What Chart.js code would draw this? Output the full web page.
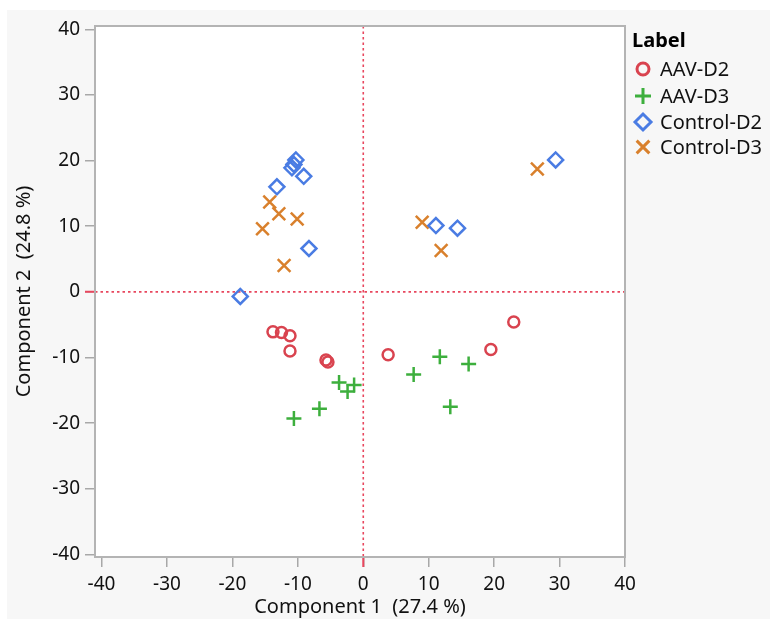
<!DOCTYPE html>
<html>
<head>
<meta charset="utf-8">
<script src="https://cdn.jsdelivr.net/npm/chart.js@4.4.0/dist/chart.umd.min.js"></script>
<style>
  html, body { margin: 0; padding: 0; background: #fff; }
  #wrap { position: relative; width: 770px; height: 619px; }
</style>
</head>
<body>
<div id="wrap"><canvas id="pca" width="770" height="619"></canvas></div>
<script>
// data
const seriesNames = ['AAV-D2', 'AAV-D3', 'Control-D2', 'Control-D3'];

const aavD2X = [-13.8, -12.5, -11.2, -11.2, -5.7, -5.4, 3.8, 23.0, 19.5];
const aavD2Y = [-6.1, -6.2, -6.7, -9.0, -10.4, -10.7, -9.6, -4.6, -8.8];

const aavD3X = [-3.7, -1.4, -2.4, -6.7, -10.6, 7.7, 11.7, 13.3, 16.1];
const aavD3Y = [-13.8, -14.2, -15.2, -17.8, -19.3, -12.6, -9.9, -17.5, -11.0];

const ctrlD2X = [-18.8, -13.2, -10.3, -10.6, -10.9, -9.1, -8.3, 29.4, 11.1, 14.4];
const ctrlD2Y = [-0.7, 16.0, 20.1, 19.4, 18.9, 17.6, 6.6, 20.1, 10.1, 9.7];

const ctrlD3X = [-14.3, -12.9, -10.1, -15.4, -12.1, 26.6, 9.0, 11.9];
const ctrlD3Y = [13.7, 11.9, 11.1, 9.6, 4.0, 18.7, 10.6, 6.3];

const xTicks = [-40, -30, -20, -10, 0, 10, 20, 30, 40];
const yTicks = [-40, -30, -20, -10, 0, 10, 20, 30, 40];

const FONT = "'Noto Sans', 'DejaVu Sans', sans-serif";
const refColor = '#e8475e';

function pts(xs, ys) { return xs.map((x, i) => ({ x: x, y: ys[i] })); }

const styles = [
  { color: '#d9434f', pointStyle: 'circle', radius: 5.5, width: 2.5 },
  { color: '#3daf3d', pointStyle: 'cross', radius: 7.5, width: 2.5 },
  { color: '#4a7ce3', pointStyle: 'rectRot', radius: 7.5, width: 2.5 },
  { color: '#d9802c', pointStyle: 'crossRot', radius: 9, width: 2.5 }
];

const allData = [pts(aavD2X, aavD2Y), pts(aavD3X, aavD3Y), pts(ctrlD2X, ctrlD2Y), pts(ctrlD3X, ctrlD3Y)];

const datasets = seriesNames.map((name, i) => ({
  label: name,
  data: allData[i],
  pointStyle: styles[i].pointStyle,
  pointRadius: styles[i].radius,
  pointHoverRadius: styles[i].radius,
  pointBorderWidth: styles[i].width,
  pointBorderColor: styles[i].color,
  pointBackgroundColor: 'rgba(0,0,0,0)',
  borderColor: styles[i].color,
  backgroundColor: 'rgba(0,0,0,0)',
  showLine: false
}));

/* === BACKGROUND, FRAME, REFERENCE LINES, LEGEND === */
const decor = {
  id: 'decor',
  beforeDraw(chart) {
    const { ctx, chartArea: a } = chart;
    ctx.save();
    ctx.fillStyle = '#f7f7f7';
    ctx.fillRect(7, 10, chart.width - 7, chart.height - 10);
    ctx.fillStyle = '#ffffff';
    ctx.fillRect(a.left, a.top, a.right - a.left, a.bottom - a.top);
    ctx.restore();
  },
  beforeDatasetsDraw(chart) {
    const { ctx, chartArea: a, scales } = chart;
    const x0 = scales.x.getPixelForValue(0);
    const y0 = scales.y.getPixelForValue(0);
    ctx.save();
    ctx.strokeStyle = refColor;
    ctx.lineWidth = 1.6;
    ctx.setLineDash([2.5, 3]);
    ctx.beginPath();
    ctx.moveTo(x0, a.top);
    ctx.lineTo(x0, a.bottom);
    ctx.moveTo(a.left, y0);
    ctx.lineTo(a.right, y0);
    ctx.stroke();
    // solid red tick stubs outside the frame
    ctx.setLineDash([]);
    ctx.lineWidth = 2;
    ctx.beginPath();
    ctx.moveTo(x0, a.bottom);
    ctx.lineTo(x0, a.bottom + 10);
    ctx.moveTo(a.left, y0);
    ctx.lineTo(a.left - 10, y0);
    ctx.stroke();
    ctx.restore();
  },
  afterDraw(chart) {
    const { ctx, chartArea: a } = chart;
    ctx.save();
    ctx.strokeStyle = '#b4b4b4';
    ctx.lineWidth = 2;
    ctx.strokeRect(a.left, a.top, a.right - a.left, a.bottom - a.top);

    // legend
    ctx.fillStyle = '#000';
    ctx.font = 'bold 20px ' + FONT;
    ctx.textBaseline = 'middle';
    ctx.textAlign = 'left';
    ctx.fillText('Label', 632, 41);
    ctx.font = '20px ' + FONT;
    const rowY = [69, 96, 122, 147];
    seriesNames.forEach((name, i) => {
      const s = styles[i];
      ctx.strokeStyle = s.color;
      ctx.fillStyle = 'rgba(0,0,0,0)';
      ctx.lineWidth = s.width + 0.5;
      Chart.helpers.drawPoint(ctx, {
        pointStyle: s.pointStyle,
        radius: s.pointStyle === 'circle' ? 6 : (s.pointStyle === 'crossRot' ? 9 : 8),
        rotation: 0,
        borderWidth: s.width + 0.5
      }, 643, rowY[i]);
      ctx.fillStyle = '#111';
      ctx.fillText(name, 660, rowY[i] + 1);
    });
    ctx.restore();
  }
};

new Chart(document.getElementById('pca').getContext('2d'), {
  type: 'scatter',
  data: { datasets: datasets },
  plugins: [decor],
  options: {
    responsive: false,
    animation: false,
    layout: { padding: { top: 26, right: 145, left: 0, bottom: 0 } },
    plugins: {
      legend: { display: false },
      tooltip: { enabled: false }
    },
    scales: {
      x: {
        type: 'linear',
        min: -41,
        max: 40,
        afterBuildTicks: axis => { axis.ticks = xTicks.map(v => ({ value: v })); },
        afterFit: axis => { axis.height = 62; },
        grid: { drawOnChartArea: false, drawTicks: true, tickLength: 10, color: '#a8a8a8', lineWidth: 1.5 },
        border: { display: false },
        ticks: { color: '#111', font: { family: FONT, size: 19 }, padding: 6, maxRotation: 0 },
        title: { display: true, text: 'Component 1  (27.4 %)', color: '#111', font: { family: FONT, size: 20 }, padding: { top: 0, bottom: 0 } }
      },
      y: {
        type: 'linear',
        min: -40.4,
        max: 40.5,
        afterBuildTicks: axis => { axis.ticks = yTicks.map(v => ({ value: v })); },
        afterFit: axis => { axis.width = 95; },
        grid: { drawOnChartArea: false, drawTicks: true, tickLength: 10, color: '#a8a8a8', lineWidth: 1.5 },
        border: { display: false },
        ticks: { color: '#111', font: { family: FONT, size: 19 }, padding: 5 },
        title: { display: true, text: 'Component 2  (24.8 %)', color: '#111', font: { family: FONT, size: 20 }, padding: { top: 12, bottom: 0 } }
      }
    }
  }
});
</script>
</body>
</html>
